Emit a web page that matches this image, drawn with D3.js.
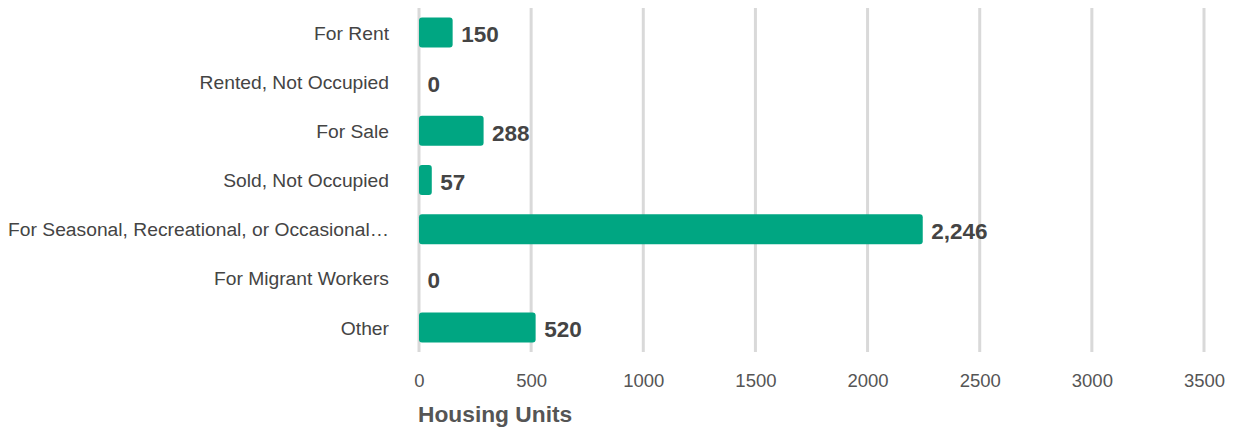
<!DOCTYPE html>
<html>
<head>
<meta charset="utf-8">
<script src="https://cdn.jsdelivr.net/npm/d3@7"></script>
<style>
  body { margin: 0; background: #fff; }
  text { font-family: "Liberation Sans", Arial, sans-serif; }
</style>
</head>
<body>
<svg class="chart" width="1238" height="430"></svg>
<script>
// categories and values
const categories = [
	'For Rent',
	'Rented, Not Occupied',
	'For Sale',
	'Sold, Not Occupied',
	'For Seasonal, Recreational, or Occasional…',
	'For Migrant Workers',
	'Other'
];
const units = [150, 0, 288, 57, 2246, 0, 520];
const xTicks = [0, 500, 1000, 1500, 2000, 2500, 3000, 3500];
const xTitle = 'Housing Units';

const svg = d3.select('.chart');

const x = d3.scaleLinear().domain([0, 3500]).range([419, 1204]);
const y = d3.scaleBand().domain(categories).range([8, 352])
	.paddingInner(0.39).paddingOuter(0.195);

const rows = categories.map((c, i) => ({cat: c, val: units[i]}));

//vertical grid lines
svg.append('g').selectAll('line')
	.data(xTicks)
	.enter().append('line')
	.attr('x1', d => x(d)).attr('x2', d => x(d))
	.attr('y1', 8).attr('y2', 352)
	.attr('stroke', '#d9d9d9')
	.attr('stroke-width', 3);

//x axis, labels only
const xAxis = svg.append('g')
	.attr('transform', 'translate(0,371)')
	.call(d3.axisBottom(x).tickValues(xTicks).tickFormat(d3.format('d')).tickSize(0));
xAxis.select('.domain').remove();
xAxis.selectAll('text')
	.attr('fill', '#555')
	.style('font-size', '18.5px')
	.style('font-family', '"Liberation Sans", Arial, sans-serif');

//y axis, category labels
const yAxis = svg.append('g')
	.attr('transform', 'translate(389,1)')
	.call(d3.axisLeft(y).tickSize(0).tickPadding(0));
yAxis.select('.domain').remove();
yAxis.selectAll('text')
	.attr('fill', '#444')
	.style('font-size', '19.25px')
	.style('font-family', '"Liberation Sans", Arial, sans-serif');

//bars
svg.append('g').selectAll('rect')
	.data(rows)
	.enter().append('rect')
	.attr('x', x(0))
	.attr('y', d => y(d.cat))
	.attr('width', d => Math.max(0, x(d.val) - x(0)))
	.attr('height', y.bandwidth())
	.attr('rx', d => d.val > 0 ? 3 : 0)
	.attr('fill', '#00a682');

//value labels
svg.append('g').selectAll('text')
	.data(rows)
	.enter().append('text')
	.attr('x', d => x(d.val) + 8.5)
	.attr('y', d => y(d.cat) + y.bandwidth() / 2 + 2)
	.attr('dy', '0.35em')
	.attr('fill', '#444')
	.style('font-size', '22.5px')
	.style('font-weight', 'bold')
	.text(d => d3.format(',')(d.val));

//axis title
svg.append('text')
	.attr('x', 418)
	.attr('y', 422)
	.attr('fill', '#555')
	.style('font-size', '22.75px')
	.style('font-weight', 'bold')
	.text(xTitle);
</script>
</body>
</html>
